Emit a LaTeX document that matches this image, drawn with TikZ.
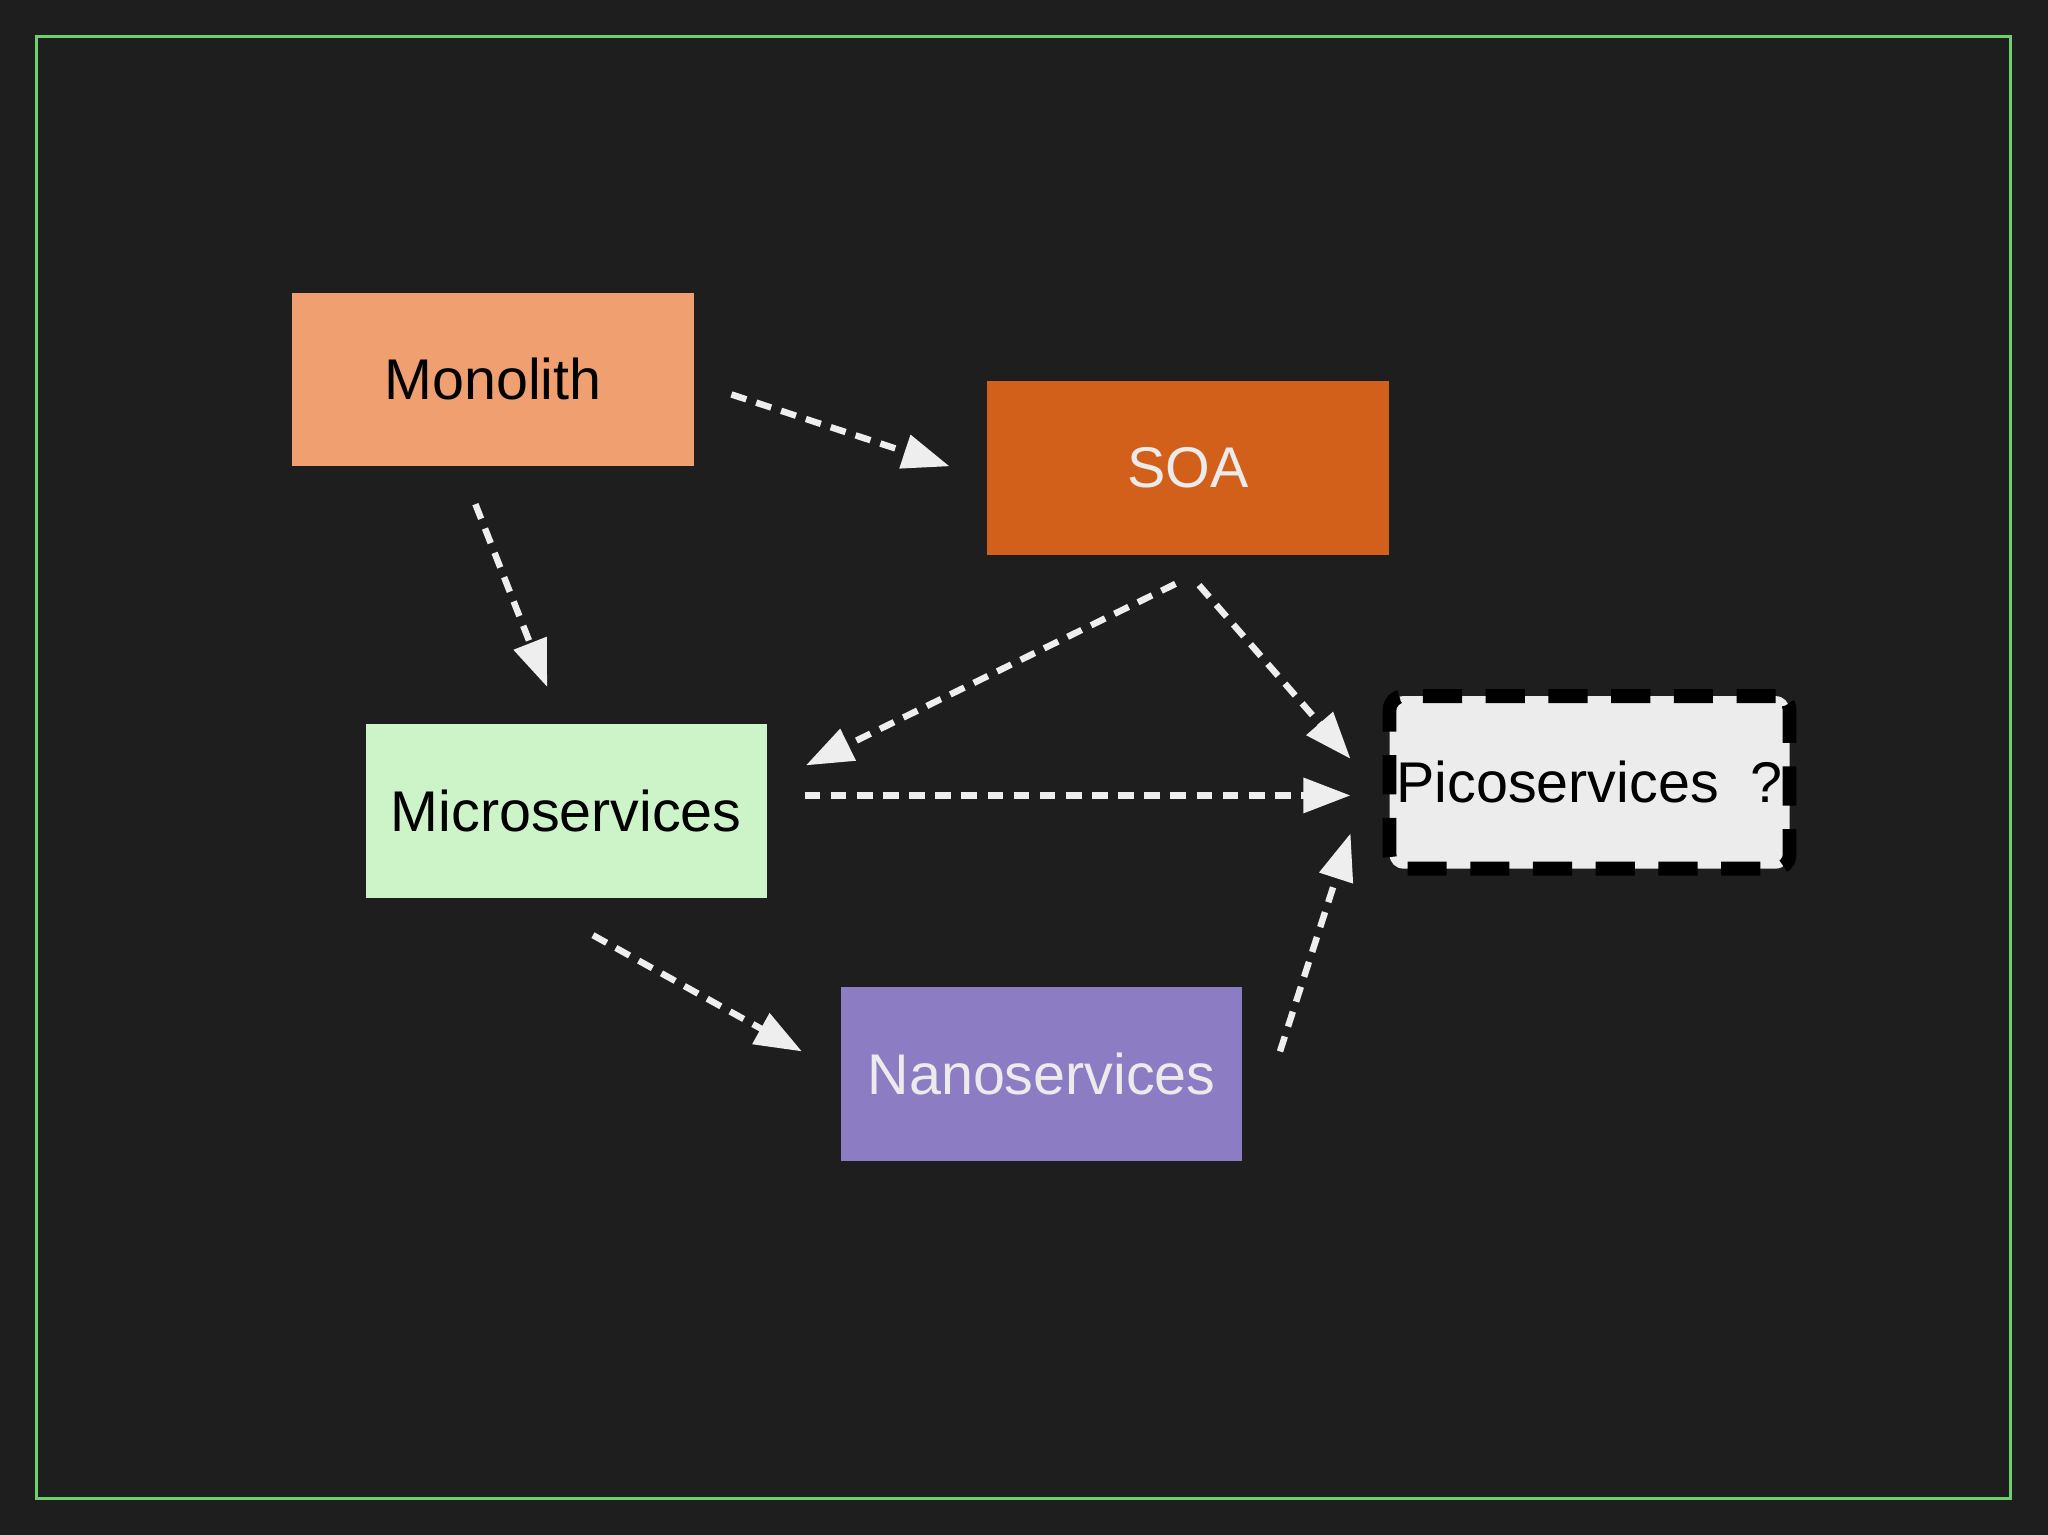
\documentclass[tikz,border=0pt]{standalone}
\usepackage{fontspec}
\setmainfont{Liberation Sans}
\usetikzlibrary{arrows.meta}
\definecolor{bg}{HTML}{1E1E1E}
\definecolor{frame}{HTML}{6FCF6F}
\definecolor{mono}{HTML}{F0A070}
\definecolor{soa}{HTML}{D2601A}
\definecolor{micro}{HTML}{CDF3C8}
\definecolor{nano}{HTML}{8C7CC4}
\definecolor{pico}{HTML}{EDECED}
\definecolor{arr}{HTML}{EEEEEE}
\begin{document}
\begin{tikzpicture}[x=0.01cm,y=-0.01cm,
  box/.style={draw=none,minimum width=3.07cm,minimum height=1.33cm,inner sep=0pt,font=\fontsize{12.5}{14}\selectfont},
  conn/.style={draw=arr,line width=1.4pt,dash pattern=on 0.12cm off 0.08cm,
    -{Triangle[length=0.36cm,width=0.26cm,fill=arr]}}]
\fill[bg] (0,0) rectangle (1568,1175);
\useasboundingbox (0,0) rectangle (1568,1175);
\draw[frame,line width=0.6pt] (28,28) rectangle (1539,1147);
\node[box,fill=mono,text=black] (mono) at (377.5,290.5) {Monolith};
\node[box,fill=soa,text=white!92!black] (soa) at (909.5,358) {SOA};
\node[box,fill=micro,text=black] (micro) at (433.5,621) {Microservices};
\node[box,fill=nano,text=white!92!black] (nano) at (797.5,822.5) {Nanoservices};
\node[box,fill=pico,text=black,minimum width=3.06cm,minimum height=1.32cm,
  draw=black,line width=3pt,dash pattern=on 0.3cm off 0.18cm,rounded corners=3pt] (pico) at (1217,599) {Picoservices \ ?};
\coordinate (m1) at (560,302); \coordinate (s1) at (727,357);
\coordinate (m2) at (364,386); \coordinate (c1) at (419,526);
\coordinate (s2) at (900,447); \coordinate (c2) at (617,586);
\coordinate (s3) at (918,448); \coordinate (p1) at (1034,581);
\coordinate (c3) at (616,609); \coordinate (p2) at (1034,609);
\coordinate (c4) at (454,716); \coordinate (n1) at (614,805);
\coordinate (n2) at (980,805); \coordinate (p3) at (1034,638);
\draw[conn] (m1) -- (s1);
\draw[conn] (m2) -- (c1);
\draw[conn] (s2) -- (c2);
\draw[conn] (s3) -- (p1);
\draw[conn] (c3) -- (p2);
\draw[conn] (c4) -- (n1);
\draw[conn] (n2) -- (p3);
\end{tikzpicture}
\end{document}
